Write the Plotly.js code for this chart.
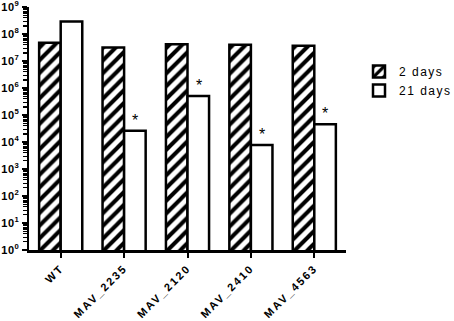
<!DOCTYPE html>
<html>
<head>
<meta charset="utf-8">
<script src="https://cdn.plot.ly/plotly-3.0.1.min.js"></script>
<style>
  html, body { margin: 0; padding: 0; background: #fff; }
  #chart { width: 454px; height: 321px; }
  .xtick text { letter-spacing: 2px; }
  .ytick text { letter-spacing: 0.5px; }
  .legendtext { letter-spacing: 1.5px; }
</style>
</head>
<body>
<div id="chart"></div>
<script>
// Data
const categories = ["WT", "MAV_2235", "MAV_2120", "MAV_2410", "MAV_4563"];
const days2 = [4.8e7, 3.2e7, 4.2e7, 4.0e7, 3.7e7];
const days21 = [2.9e8, 2.6e4, 5.1e5, 7.7e3, 4.6e4];
const significant = [false, true, true, true, true];
const seriesNames = ["2 days", "21 days"];
const yExponents = [0, 1, 2, 3, 4, 5, 6, 7, 8, 9];
const yTickVals = yExponents.map(e => Math.pow(10, e));
const yTickText = yExponents.map(e => "10<sup>" + e + "</sup>");
const minorDigits = [2, 3, 4, 5, 6, 7, 8, 9];
const yMinorVals = [];
yExponents.slice(0, -1).forEach(e => minorDigits.forEach(d => yMinorVals.push(d * Math.pow(10, e))));

const FONT = "Liberation Sans, Arial, sans-serif";

const traces = [
  {
    type: "bar",
    name: seriesNames[0],
    x: categories,
    y: days2,
    marker: {
      color: "white",
      line: { color: "black", width: 2.5 },
      pattern: { shape: "/", fgcolor: "black", bgcolor: "white", size: 9, solidity: 0.45, fillmode: "replace" }
    },
    hoverinfo: "skip"
  },
  {
    type: "bar",
    name: seriesNames[1],
    x: categories,
    y: days21,
    marker: { color: "white", line: { color: "black", width: 2.5 } },
    hoverinfo: "skip"
  }
];

const annotations = [];
categories.forEach((c, i) => {
  if (significant[i]) {
    annotations.push({
      x: c, y: Math.log10(days21[i]), xref: "x", yref: "y",
      text: "*", showarrow: false, xshift: 11, yshift: 0,
      yanchor: "bottom", xanchor: "center",
      font: { family: FONT, size: 16, color: "black" }
    });
  }
});

const layout = {
  width: 454, height: 321,
  margin: { l: 29, r: 108, t: 7, b: 71, pad: 0 },
  paper_bgcolor: "white", plot_bgcolor: "white",
  font: { family: FONT, color: "black" },
  barmode: "group",
  bargap: 0.32,
  bargroupgap: 0,
  showlegend: true,
  legend: {
    x: 359 / 454, xref: "container", xanchor: "left",
    y: 1 - 57 / 321, yref: "container", yanchor: "top",
    font: { family: FONT, size: 12, color: "black" },
    bgcolor: "rgba(0,0,0,0)", borderwidth: 0,
    tracegroupgap: 4
  },
  xaxis: {
    type: "category",
    showline: true, linecolor: "black", linewidth: 2.5,
    ticks: "outside", ticklen: 5, tickwidth: 2, tickcolor: "black",
    tickangle: -45,
    tickfont: { family: FONT, size: 11, color: "black", weight: "bold" },
    showgrid: false, zeroline: false, fixedrange: true
  },
  yaxis: {
    type: "log",
    range: [0, 9.002],
    tickmode: "array",
    tickvals: yTickVals,
    ticktext: yTickText,
    ticklabeloverflow: "allow",
    showline: true, linecolor: "black", linewidth: 2.5,
    ticks: "outside", ticklen: 5, tickwidth: 2, tickcolor: "black",
    tickfont: { family: FONT, size: 11, color: "black", weight: "bold" },
    minor: { ticks: "outside", ticklen: 3.5, tickwidth: 1.2, tickcolor: "black", tickmode: "array", tickvals: yMinorVals, showgrid: false },
    showgrid: false, zeroline: false, fixedrange: true
  },
  annotations: annotations
};

Plotly.newPlot("chart", traces, layout, { staticPlot: true, displayModeBar: false });
</script>
</body>
</html>
